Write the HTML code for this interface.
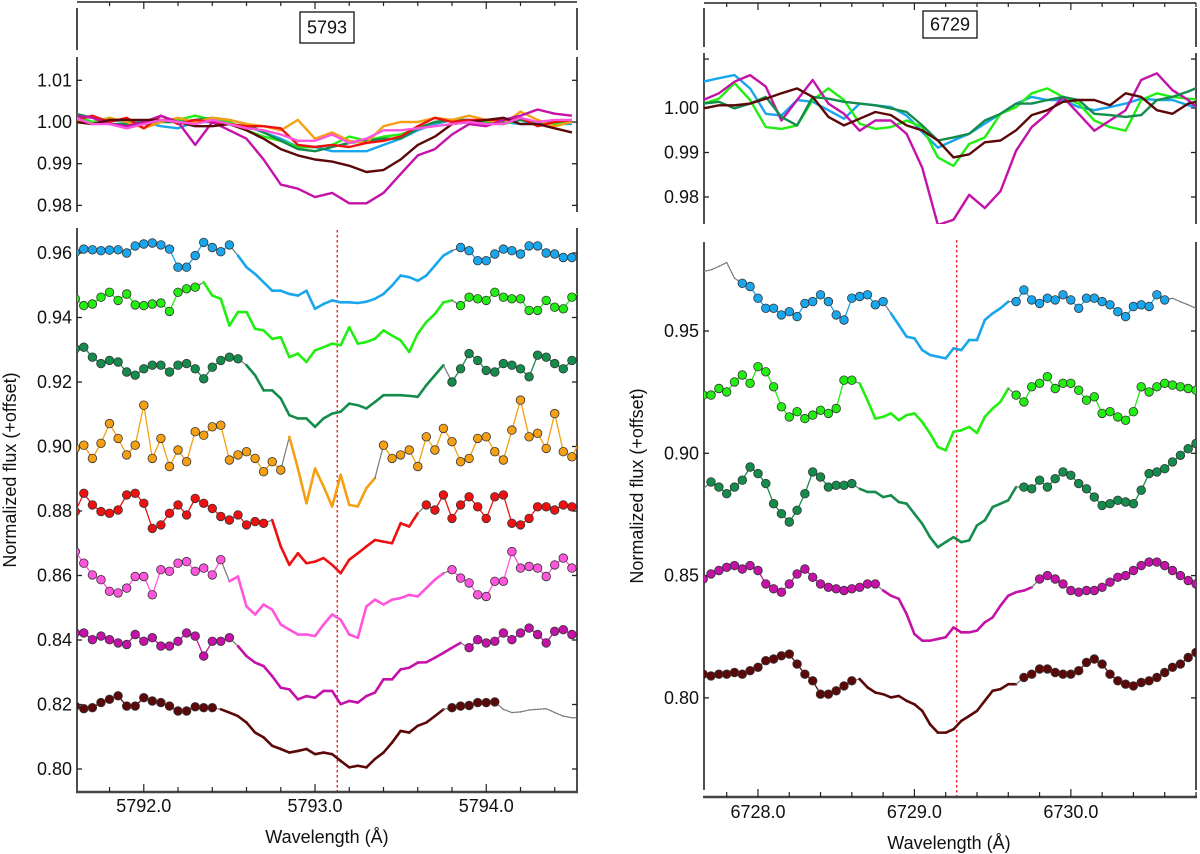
<!DOCTYPE html>
<html><head><meta charset="utf-8"><style>
html,body{margin:0;padding:0;background:#fff;}
svg{display:block;font-family:"Liberation Sans",sans-serif;}
</style></head><body>
<svg id="chart" width="1200" height="854" viewBox="0 0 1200 854" xmlns="http://www.w3.org/2000/svg"></svg>
<script>
// ---------- DATA ----------
// Left panel (5793): samples at 5791.60 + 0.05*i ; values in milli-flux
const leftStart = 5791.60, leftStep = 0.05;
const leftBlue = [960.2,961.2,961.0,960.7,960.9,961.0,960.0,962.2,962.8,963.1,962.5,961.2,955.6,955.6,959.2,963.3,961.7,960.4,962.5,959.2,955.6,953.5,950.9,948.3,948.3,947.3,946.8,948.3,942.7,944.2,945.3,944.7,944.7,944.5,944.9,945.8,947.3,949.9,953.0,952.5,951.4,953.0,956.1,959.2,960.7,961.7,960.7,957.6,957.6,959.7,961.2,960.7,959.7,962.2,962.2,960.0,959.7,958.6,958.6,958.6];
const leftLime = [945.8,943.7,944.2,946.3,947.8,945.3,947.3,943.9,943.7,944.2,944.5,941.9,947.8,948.9,949.4,950.9,946.8,945.8,937.5,941.7,941.7,936.5,936.0,933.4,933.9,927.7,928.8,926.2,929.8,930.8,931.9,931.4,937.0,931.9,932.4,933.4,936.0,934.4,932.9,929.3,935.0,938.6,941.1,944.7,945.3,943.7,946.3,945.8,945.3,947.8,946.3,945.8,945.8,942.2,942.2,945.3,943.2,942.7,946.3,947.8];
const leftDkGreen = [930.3,930.8,927.7,925.7,926.7,926.2,923.1,922.1,924.1,925.2,925.2,923.1,925.2,925.7,924.1,921.0,924.6,926.7,927.7,927.2,925.2,922.1,917.4,917.4,914.9,909.7,908.7,908.7,906.1,908.7,910.2,910.8,913.3,912.8,911.8,913.8,915.9,915.9,915.9,915.7,915.4,919.0,922.1,925.2,920.0,924.1,928.8,926.7,923.6,923.1,925.7,925.2,924.1,921.6,928.3,927.7,925.7,924.1,926.7,925.2];
const leftOrange = [899.4,900.4,896.3,901.0,907.1,902.5,897.4,900.4,912.8,896.3,902.5,893.8,898.9,895.3,904.6,903.5,906.1,906.6,895.8,897.4,898.4,896.3,892.2,895.3,892.7,903.0,893.2,882.4,893.2,887.6,881.4,891.2,881.9,881.4,887.1,890.2,900.4,896.3,897.4,898.9,893.8,903.0,898.9,905.6,901.5,895.3,896.3,902.5,903.0,898.4,895.8,905.1,914.4,903.0,904.1,899.4,910.2,898.4,896.8,902.0];
const leftRed = [879.8,885.5,881.9,879.8,879.3,880.3,885.0,885.5,882.4,874.6,875.7,879.3,881.9,878.8,883.9,882.4,880.8,878.3,877.2,878.8,875.7,876.7,876.2,877.2,869.0,863.3,866.9,863.8,864.3,865.4,863.3,860.7,864.9,866.9,869.0,871.0,870.5,870.0,876.2,875.2,879.3,881.9,880.3,885.0,877.7,881.9,884.4,881.3,877.7,884.4,885.0,876.2,875.7,877.7,881.3,881.3,880.3,881.9,881.3,880.8];
const leftPink = [867.4,863.8,860.2,858.7,855.1,854.6,856.1,859.7,859.7,854.0,861.8,861.3,863.8,864.3,861.3,862.3,860.2,864.9,858.2,859.7,850.4,847.9,851.0,849.4,844.8,843.2,841.7,841.7,841.2,844.8,847.9,846.3,841.7,840.7,850.4,852.5,851.0,852.5,853.0,854.0,853.5,856.1,858.7,860.7,861.8,859.2,857.7,854.0,853.5,858.2,858.2,867.4,862.3,862.8,862.3,859.7,863.3,865.4,862.3,862.8];
const leftMagenta = [842.2,842.2,840.1,841.2,840.1,839.1,838.6,841.7,839.6,840.7,838.1,838.1,839.6,842.2,841.2,835.0,839.6,839.6,840.7,838.1,835.0,833.0,831.9,828.8,825.2,824.7,821.6,822.6,822.1,824.2,824.2,820.1,821.1,820.6,822.6,823.7,827.8,827.8,830.9,831.4,833.0,833.1,834.5,836.0,837.6,839.1,837.6,840.1,839.1,839.6,842.2,840.1,842.2,843.7,841.7,839.1,842.7,843.2,841.7,842.2];
const leftBrown = [819.5,818.7,819.0,820.6,821.6,822.7,819.5,819.5,822.1,821.1,820.6,819.5,818.0,818.0,819.3,819.0,819.0,818.5,817.5,816.4,814.4,811.3,809.8,807.2,806.2,805.1,805.6,806.2,804.6,805.1,804.6,802.5,800.5,801.0,800.5,803.1,805.1,808.2,811.8,811.3,813.4,814.4,816.4,818.5,819.0,819.5,819.7,820.6,820.6,820.8,818.5,817.5,817.7,818.3,818.5,818.7,817.5,816.4,815.9,815.9];

// Left top panel: samples at 5791.60 + 0.1*i
const topLStart = 5791.60, topLStep = 0.1;
const topLBlue = [1001,1000,1000.5,1000,1000,999,998.5,1000,1000,999.5,999,997.5,996,994,994,993,993,993,994.5,996,998,999.5,1000.5,1000.5,1000,1000,999.5,1000,999.5,999.5];
const topLLime = [1001.5,1000,1001,1000,999.5,1000,1000.5,1001.5,1000.5,1000,998,996.5,995.5,994,994,994.5,996.5,995.5,996.5,997,998.5,1000,1000.5,1000,1000,999.5,1000.5,1000,999.5,1000];
const topLDkGreen = [1002,1001,999.5,999.5,1000,1000,1000,1000.5,1001,1000.5,999.5,997.5,995.5,993.5,993,994,995,995.5,996,996,998.5,1000,1000.5,1000.5,999.5,1000,1000.5,999.5,1000,1000.5];
const topLOrange = [1000.5,999.5,1001,1000,998.5,1000,1001,1000,1001,1000.5,999.5,999,998,1000.5,996,997.5,995.5,995,999,1000,1000,1001,1000.5,1001.5,1000.5,999.5,1002.5,1000.5,999,1000];
const topLRed = [1000.5,1001.5,1000,1001,998.5,1001.5,999.5,1000.5,1000,999.5,999,999,998.5,994.5,994,994.5,994,995,995.5,996.5,999,1001,1000,1000.5,1000.5,1000.5,1001,999,1000,1000.5];
const topLPink = [1001,999.5,999.5,998.5,999.5,1000.5,1000,999.5,1000.5,999.5,998.5,998,997,995.5,995.5,997,995,996,998,998,998.5,999,999.5,1000,999.5,999.5,1001,1000,1000.5,1000.5];
const topLMagenta = [1001.5,1001,999.5,999,1000,1001.5,1000,994.5,1000,998,996,991,985,984,982,983,980.5,980.5,983,987.5,992,993.5,997,999.5,999,1000.5,1001.5,1003,1002,1001.5];
const topLBrown = [1000,999.5,1000.5,1000.5,1000.5,1000.5,1000,999,999,999.5,998,996,993.5,992,991,990.5,989.5,988,988.5,991,994.5,996.5,999.5,1000,1000.5,1001,999.5,999.5,998.5,997.5];

// Right panel (6729): samples at 6727.65 + 0.05*i
const rightStart = 6727.65, rightStep = 0.05;
const rightBlue = [974.3,975.0,976.4,978.0,971.6,969.5,968.2,963.4,959.3,959.3,956.6,957.9,955.9,961.3,962.0,964.8,962.0,956.6,954.5,963.4,964.1,964.8,960.7,962.0,957.2,952.5,947.7,947.0,942.2,940.2,939.5,938.8,942.9,942.2,946.3,946.3,954.5,957.2,959.3,962.0,962.0,966.8,962.7,961.3,963.4,962.7,964.8,962.7,959.3,963.4,963.4,962.0,960.7,957.9,955.9,960.0,960.7,960.0,964.8,962.7,963.4,962.0,960.7,959.3];
const rightLime = [923.8,923.8,926.5,925.1,929.2,932.0,928.6,935.4,933.3,927.2,919.0,914.9,917.0,914.2,915.6,917.6,916.3,918.3,929.9,929.9,928.6,921.7,914.2,914.9,916.3,913.5,915.6,916.3,912.8,908.1,902.6,901.2,908.8,909.4,910.8,908.3,914.9,918.3,921.0,926.5,923.8,921.0,927.2,928.6,931.3,926.5,928.6,928.6,925.8,921.7,923.1,916.3,917.0,914.9,913.5,917.0,927.2,925.1,927.2,928.6,927.9,927.2,926.5,925.8];
const rightDkGreen = [885.5,888.3,886.2,883.5,886.2,889.0,894.4,891.7,887.6,879.4,875.3,871.9,876.7,883.5,892.4,890.3,886.2,886.9,886.9,887.6,885.5,884.2,884.2,882.1,882.8,880.1,879.4,875.3,871.2,865.7,861.6,863.7,865.7,863.7,864.4,870.5,872.6,878.0,879.4,880.8,886.2,886.2,885.5,889.0,886.2,889.6,892.4,891.0,887.6,885.5,882.1,878.7,879.4,880.8,880.1,879.4,884.9,891.7,892.4,893.7,896.5,899.2,901.9,904.0];
const rightMagenta = [848.6,850.7,852.1,853.4,854.1,852.7,854.1,852.1,846.6,844.6,843.2,846.6,850.7,852.7,849.3,846.6,845.2,844.6,843.9,844.6,845.2,846.6,846.6,843.9,841.8,840.5,834.3,826.1,823.4,823.4,824.1,824.8,828.8,826.8,826.8,827.5,830.9,832.9,837.7,841.8,843.2,843.9,845.2,848.6,850.0,848.6,846.6,843.9,843.2,843.9,843.9,845.2,847.3,849.3,850.0,852.1,854.1,855.5,855.5,854.1,852.1,850.0,848.0,846.6];
const rightBrown = [809.7,809.0,809.7,809.7,810.4,809.7,811.1,812.5,815.2,815.9,817.2,817.9,813.8,809.7,807.0,801.5,801.5,802.9,804.9,807.0,807.7,804.3,802.2,801.5,800.2,800.8,798.8,797.4,794.7,789.2,785.8,785.8,787.2,790.6,792.6,794.7,798.8,802.9,803.6,805.6,805.6,808.4,809.7,811.8,811.8,810.4,809.7,809.7,811.1,814.5,815.9,813.8,809.7,807.0,805.6,804.9,806.3,807.0,808.4,810.4,812.5,813.8,816.5,818.6];

// Right top panel: samples at 6727.65 + 0.1*i
const topRStart = 6727.65, topRStep = 0.1;
const topRBlue = [1005.9,1006.7,1007.4,1004.4,998.7,998.3,1001.8,1001.4,999.5,997.6,1001.0,1000.6,1000.2,998.3,994.6,991.1,992.7,994.2,996.5,998.7,1001.0,1002.5,1001.8,1001.8,1000.2,999.5,1000.2,1001.0,1002.1,1001.8,1001.8,1000.6,999.9];
const topRLime = [1001.0,1002.1,1005.6,1001.8,995.7,995.3,996.1,1001.8,1004.4,1001.8,996.5,995.3,995.7,997.2,995.7,988.9,987.0,991.9,993.4,998.7,1000.2,1003.3,1004.4,1002.5,1001.0,997.2,995.7,994.9,1001.8,1003.3,1002.5,1002.1,1001.8];
const topRDkGreen = [1001.0,1001.4,999.9,1001.0,1002.5,998.0,996.1,1002.5,1002.1,1001.4,1001.0,1000.6,999.9,999.1,996.1,992.7,993.4,994.2,997.2,998.7,1001.0,1001.0,1001.8,1002.5,1001.8,998.7,998.4,998.0,998.4,1001.8,1002.5,1003.7,1005.2];
const topRMagenta = [1001.8,1003.3,1005.9,1007.4,1004.8,997.2,1001.8,1006.3,1001.0,998.7,994.9,997.2,997.2,994.2,986.6,973.7,974.9,980.5,977.5,981.3,990.4,995.7,998.7,1002.5,998.7,994.9,997.2,999.5,1006.3,1007.8,1004.0,1001.8,998.7];
const topRBrown = [999.9,1000.6,1000.6,1001.0,1002.1,1003.3,1004.4,1002.5,998.0,996.1,997.6,999.1,998.4,996.1,995.0,992.7,988.9,989.6,992.3,992.7,995.0,998.4,999.5,1001.4,1001.8,1001.8,1000.6,1003.3,1002.5,999.5,998.7,1001.0,1001.8];

// Line regions (wavelengths) and tick labels
const leftLineRegions = [[5792.52,5793.81],[5792.34,5793.81],[5792.58,5793.75],[5792.83,5793.39],[5792.73,5793.60],[5792.46,5793.77],[5792.55,5793.86],[5792.43,5793.75]];
const leftDotEnds = [null,null,null,null,null,null,null,5794.08];
const rightLineRegions = [[6728.80,6729.60],[6728.65,6729.60],[6728.65,6729.66],[6728.79,6729.77],[6728.64,6729.67]];
const rightDotRanges = [[6727.87,6730.60],null,[6727.68,99999],null,null];
const leftXTicks = [5792.0,5793.0,5794.0];
const rightXTicks = [6728.0,6729.0,6730.0];
const leftYTicks = [0.80,0.82,0.84,0.86,0.88,0.90,0.92,0.94,0.96];
const rightYTicks = [0.80,0.85,0.90,0.95];
const topLYTicks = [0.98,0.99,1.00,1.01];
const topRYTicks = [0.98,0.99,1.00];
const leftMarker = 5793.13, rightMarker = 6729.27;

// ---------- DRAWING ----------
const NS = "http://www.w3.org/2000/svg";
const svg = document.getElementById('chart');
const FS = 18;
function mk(tag, attrs, parent){
  const e = document.createElementNS(NS, tag);
  for (const k in attrs) e.setAttribute(k, attrs[k]);
  (parent||svg).appendChild(e);
  return e;
}
const COLS = {blue:'#19a6ec', lime:'#22ee11', dkgreen:'#148c4c', orange:'#f5a013', red:'#ee1111', pink:'#ff55dd', magenta:'#c412a8', brown:'#5c0808'};

const L = {x0:77, x1:577, w0:5791.61, w1:5794.53};
const R = {x0:704, x1:1196, w0:6727.655, w1:6730.80};
function sx(P,w){ return P.x0 + (w-P.w0)/(P.w1-P.w0)*(P.x1-P.x0); }
const yLTop = v => 122 + (1.00 - v)*4170;
const yRTop = v => 108 + (1.00 - v)*4450;
const yLBot = v => 253 + (0.96 - v)*3225;
const yRBot = v => 331 + (0.95 - v)*2446;

function text(x,y,s,anchor,size,name,parent){
  const t = mk('text',{x:x,y:y,'font-size':size||FS,'text-anchor':anchor||'middle',fill:'#111'},parent);
  t.textContent = s;
  
  
  return t;
}
function line(x1,y1,x2,y2,stroke,w,name,dash,parent){
  const l = mk('line',{x1:x1,y1:y1,x2:x2,y2:y2,stroke:stroke,'stroke-width':w},parent);
  if (dash) l.setAttribute('stroke-dasharray', dash);
  
  
  return l;
}

function drawFrame(P, yTop, yBot, yfn, yticks, labelFmt, tickLabelled, name){
  const g = mk('g',{});
  
  
  line(P.x0,yTop,P.x0,yBot,'#222',1.6,'left-spine',null,g);
  line(P.x1,yTop,P.x1,yBot,'#222',1.6,'right-spine',null,g);
  yticks.forEach(v=>{
    const y = yfn(v);
    line(P.x0,y,P.x0+5,y,'#222',1.3,'y-tick',null,g);
    line(P.x1-5,y,P.x1,y,'#222',1.3,'y-tick',null,g);
    if (tickLabelled(v)) text(P.x0-5, y+6, labelFmt(v), 'end', FS, 'y-tick-label', g);
  });
  return g;
}

function polyPath(pts){ return pts.map((p,i)=>(i?'L':'M')+p[0].toFixed(1)+' '+p[1].toFixed(1)).join(' '); }

function drawBotSeries(P, start, step, vals, yfn, color, region, dotRange, name){
  const g = mk('g',{});
  
  
  const pts = vals.map((v,i)=>({w:start+step*i, x:sx(P,start+step*i), y:yfn(v/1000)})).filter(p=>p.x>=P.x0-6 && p.x<=P.x1+6);
  const dLo = dotRange ? dotRange[0] : -1e9, dHi = dotRange ? dotRange[1] : 1e9;
  const kind = p => (p.w>=region[0] && p.w<=region[1]) ? 'line' : ((p.w>=dLo && p.w<=dHi) ? 'dot' : 'gray');
  for (let i=0;i<pts.length-1;i++){
    const a=pts[i], b=pts[i+1], ka=kind(a), kb=kind(b);
    let stroke=color, w=1.3, dash=null, nm='dot-connector';
    if (ka==='line' && kb==='line'){ w=2.6; nm='line-core-segment'; }
    else if (ka==='gray' || kb==='gray' || ka!==kb){ stroke='#777'; w=1.3; dash='1.5 1.2'; nm='gap-segment'; }
    const l = line(a.x,a.y,b.x,b.y,stroke,w,nm,dash,g);
    l.setAttribute('stroke-linecap','round');
  }
  pts.forEach(p=>{
    if (kind(p)==='dot' && p.x>=P.x0-2 && p.x<=P.x1+2){
      const c = mk('circle',{cx:p.x.toFixed(1),cy:p.y.toFixed(1),r:4.3,fill:color,stroke:'#333','stroke-width':0.8},g);
      
      
    }
  });
}

const defs = mk('defs',{});
function clip(id,x0,y0,x1,y1){
  const d = mk('clipPath',{id:id},defs);
  mk('rect',{x:x0,y:y0,width:x1-x0,height:y1-y0},d);
}
clip('cLT',77,57,577,212); clip('cRT',704,53,1196,224);
clip('cLB',77,228,577,792); clip('cRB',704,242,1196,797);

// ---- top strips (label boxes) ----
function strip(P, yAxis, ySpine0, ySpine1, label, bx, by, bw, bh, name){
  const g = mk('g',{});
  
  
  line(P.x0,yAxis,P.x1,yAxis,'#222',1.6,'top-axis',null,g);
  const first = Math.ceil(P.w0/0.2)*0.2;
  for (let w=first; w<=P.w1+1e-9; w+=0.2){
    const x=sx(P,w), major=Math.abs(w-Math.round(w))<1e-6;
    line(x,yAxis,x,yAxis+(major?7:4),'#222',1.2,'top-axis-tick',null,g);
  }
  line(P.x0,ySpine0,P.x0,ySpine1,'#222',1.6,'strip-spine',null,g);
  line(P.x1,ySpine0,P.x1,ySpine1,'#222',1.6,'strip-spine',null,g);
  const r = mk('rect',{x:bx,y:by,width:bw,height:bh,fill:'#fff',stroke:'#111','stroke-width':1.3},g);
  
  
  text(bx+bw/2, by+bh/2+6, label, 'middle', FS, 'feature-label', g);
}
strip(L, 2, 8, 50, '5793', 300, 12, 54, 31, 'left-header-strip');
strip(R, 3, 8, 47, '6729', 923, 11, 54, 27, 'right-header-strip');

// ---- top panels ----
drawFrame(L,57,212,yLTop,topLYTicks,v=>v.toFixed(2),()=>true,'left-top-axes');
drawFrame(R,53,224,yRTop,[0.98,0.99,1.00,1.011],v=>v.toFixed(2),v=>v<1.005,'right-top-axes');

const gLT = mk('g',{'clip-path':'url(#cLT)'});


const topLSeries = [[topLBlue,COLS.blue],[topLLime,COLS.lime],[topLDkGreen,COLS.dkgreen],[topLOrange,COLS.orange],[topLRed,COLS.red],[topLMagenta,COLS.magenta],[topLBrown,COLS.brown],[topLPink,COLS.pink]];
topLSeries.forEach(s=>{
  const pts = s[0].map((v,i)=>[sx(L,topLStart+topLStep*i), yLTop(v/1000)]);
  const p = mk('path',{d:polyPath(pts),fill:'none',stroke:s[1],'stroke-width':2.4,'stroke-linejoin':'round'},gLT);
  
  
});
const gRT = mk('g',{'clip-path':'url(#cRT)'});


const topRSeries = [[topRBlue,COLS.blue],[topRLime,COLS.lime],[topRMagenta,COLS.magenta],[topRDkGreen,COLS.dkgreen],[topRBrown,COLS.brown]];
topRSeries.forEach(s=>{
  const pts = s[0].map((v,i)=>[sx(R,topRStart+topRStep*i), yRTop(v/1000)]);
  const p = mk('path',{d:polyPath(pts),fill:'none',stroke:s[1],'stroke-width':2.4,'stroke-linejoin':'round'},gRT);
  
  
});

// ---- bottom panels ----
drawFrame(L,228,792,yLBot,leftYTicks,v=>v.toFixed(2),()=>true,'left-bottom-axes');
drawFrame(R,242,790,yRBot,rightYTicks,v=>v.toFixed(2),()=>true,'right-bottom-axes');

line(sx(L,leftMarker),230,sx(L,leftMarker),792,'#ee2222',1.4,'left-rest-wavelength-marker','2.5 2.5');
line(sx(R,rightMarker),240,sx(R,rightMarker),797,'#ee2222',1.4,'right-rest-wavelength-marker','2.5 2.5');

const gLB = mk('g',{'clip-path':'url(#cLB)'});


const leftSeries = [leftBlue,leftLime,leftDkGreen,leftOrange,leftRed,leftPink,leftMagenta,leftBrown];
const leftCols = [COLS.blue,COLS.lime,COLS.dkgreen,COLS.orange,COLS.red,COLS.pink,COLS.magenta,COLS.brown];
leftSeries.forEach((s,k)=>{
  const dr = leftDotEnds[k] ? [-1e9, leftDotEnds[k]] : null;
  drawBotSeries(L,leftStart,leftStep,s,yLBot,leftCols[k],leftLineRegions[k],dr,'left-offset-spectrum');
  gLB.appendChild(svg.lastChild);
});
const gRB = mk('g',{'clip-path':'url(#cRB)'});


const rightSeries = [rightBlue,rightLime,rightDkGreen,rightMagenta,rightBrown];
const rightCols = [COLS.blue,COLS.lime,COLS.dkgreen,COLS.magenta,COLS.brown];
rightSeries.forEach((s,k)=>{
  drawBotSeries(R,rightStart,rightStep,s,yRBot,rightCols[k],rightLineRegions[k],rightDotRanges[k],'right-offset-spectrum');
  gRB.appendChild(svg.lastChild);
});

// ---- x axes ----
function xAxis(P, y, ticks, labelY, titleX, titleY, name){
  const g = mk('g',{});
  
  
  line(P.x0-1,y,P.x1+1,y,'#444',2.6,'x-axis-line',null,g);
  const first = Math.ceil(P.w0/0.2)*0.2;
  for (let w=first; w<=P.w1+1e-9; w+=0.2){
    const x=sx(P,w), major=Math.abs(w-Math.round(w))<1e-6;
    line(x,y,x,y-(major?8:5),'#222',1.2,'x-tick',null,g);
  }
  ticks.forEach(t=>text(sx(P,t), labelY, t.toFixed(1), 'middle', FS, 'x-tick-label', g));
  text(titleX, titleY, 'Wavelength (Å)', 'middle', FS, 'x-axis-title', g);
}
xAxis(L, 792, leftXTicks, 812, 327, 843, 'left-x-axis');
xAxis(R, 797, rightXTicks, 818, 949, 849, 'right-x-axis');

// ---- y titles ----
const t1 = text(0,0,'Normalized flux (+offset)','middle',FS,'left-y-axis-title');
t1.setAttribute('transform','translate(16,470) rotate(-90)');
const t2 = text(0,0,'Normalized flux (+offset)','middle',FS,'right-y-axis-title');
t2.setAttribute('transform','translate(643,486) rotate(-90)');
</script>
</body></html>
